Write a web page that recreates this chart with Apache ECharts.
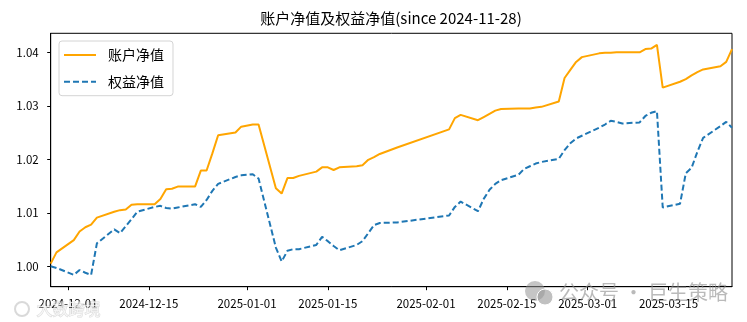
<!DOCTYPE html>
<html>
<head>
<meta charset="utf-8">
<script src="https://cdn.jsdelivr.net/npm/echarts@6/dist/echarts.min.js"></script>
<style>
  html, body { margin: 0; padding: 0; background: #fff; }
  #chart { width: 747px; height: 322px; }
</style>
</head>
<body>
<div id="chart"></div>
<script>
// Trading days since 2024-11-28
const dates = [
  '2024-11-28','2024-11-29','2024-12-02','2024-12-03','2024-12-04','2024-12-05','2024-12-06',
  '2024-12-09','2024-12-10','2024-12-11','2024-12-12','2024-12-13','2024-12-16','2024-12-17',
  '2024-12-18','2024-12-19','2024-12-20','2024-12-23','2024-12-24','2024-12-25','2024-12-26',
  '2024-12-27','2024-12-30','2024-12-31','2025-01-02','2025-01-03','2025-01-06','2025-01-07',
  '2025-01-08','2025-01-09','2025-01-10','2025-01-13','2025-01-14','2025-01-15','2025-01-16',
  '2025-01-17','2025-01-20','2025-01-21','2025-01-22','2025-01-23','2025-01-24','2025-01-27',
  '2025-02-05','2025-02-06','2025-02-07','2025-02-10','2025-02-11','2025-02-12','2025-02-13',
  '2025-02-14','2025-02-17','2025-02-18','2025-02-19','2025-02-20','2025-02-21','2025-02-24',
  '2025-02-25','2025-02-26','2025-02-27','2025-02-28','2025-03-03','2025-03-04','2025-03-05',
  '2025-03-06','2025-03-07','2025-03-10','2025-03-11','2025-03-12','2025-03-13','2025-03-14',
  '2025-03-17','2025-03-18','2025-03-19','2025-03-20','2025-03-21','2025-03-24','2025-03-25',
  '2025-03-26'
];

// 账户净值
const accountNav = [
  1.0005, 1.0026, 1.0049, 1.0065, 1.0073, 1.0078, 1.0091,
  1.0102, 1.0105, 1.0106, 1.0115, 1.0116, 1.0116, 1.0126,
  1.0144, 1.0145, 1.0149, 1.0149, 1.0179, 1.0179, 1.0211,
  1.0245, 1.0250, 1.0261, 1.0265, 1.0265, 1.0146, 1.0136,
  1.0165, 1.0165, 1.0169, 1.0177, 1.0185, 1.0185, 1.0180,
  1.0185, 1.0187, 1.0189, 1.0199, 1.0204, 1.0210, 1.0222,
  1.0256, 1.0277, 1.0283, 1.0273, 1.0279, 1.0285, 1.0291,
  1.0294, 1.0295, 1.0295, 1.0295, 1.0297, 1.0298, 1.0308,
  1.0352, 1.0367, 1.0382, 1.0391, 1.0398, 1.0399, 1.0399,
  1.0400, 1.0400, 1.0400, 1.0406, 1.0407, 1.0414, 1.0334,
  1.0345, 1.0350, 1.0357, 1.0363, 1.0368, 1.0374, 1.0382,
  1.0406
];

// 权益净值
const equityNav = [
  1.0000, 0.9997, 0.9984, 0.9993, 0.9988, 0.9984, 1.0043,
  1.0069, 1.0062, 1.0075, 1.0088, 1.0102, 1.0111, 1.0113,
  1.0109, 1.0108, 1.0110, 1.0116, 1.0111, 1.0124, 1.0141,
  1.0154, 1.0167, 1.0170, 1.0172, 1.0164, 1.0035, 1.0009,
  1.0029, 1.0032, 1.0032, 1.0040, 1.0055, 1.0047, 1.0038,
  1.0030, 1.0040, 1.0047, 1.0062, 1.0077, 1.0081, 1.0082,
  1.0095, 1.0111, 1.0121, 1.0103, 1.0126, 1.0143, 1.0154,
  1.0161, 1.0171, 1.0182, 1.0187, 1.0192, 1.0195, 1.0201,
  1.0217, 1.0230, 1.0239, 1.0244, 1.0259, 1.0265, 1.0272,
  1.0270, 1.0267, 1.0269, 1.0281, 1.0287, 1.0290, 1.0110,
  1.0117, 1.0174, 1.0184, 1.0214, 1.0240, 1.0262, 1.0270,
  1.0259
];

const xTickDates = ['2024-12-01','2024-12-15','2025-01-01','2025-01-15',
                    '2025-02-01','2025-02-15','2025-03-01','2025-03-15'];
const yTicks = [1.00, 1.01, 1.02, 1.03, 1.04];
const xRange = ['2024-11-28', '2025-03-26'];
const yRange = [0.99619, 1.04355];

const seriesNames = ['账户净值', '权益净值'];
const titleText = '账户净值及权益净值(since 2024-11-28)';

// Dates are placed on a numeric axis as UTC day timestamps
function ts(s) {
  const [y, m, d] = s.split('-').map(Number);
  return Date.UTC(y, m - 1, d);
}
function fmtDate(v) {
  const d = new Date(v);
  const p = n => String(n).padStart(2, '0');
  return d.getUTCFullYear() + '-' + p(d.getUTCMonth() + 1) + '-' + p(d.getUTCDate());
}

const FONT = '"Noto Sans CJK SC", "Noto Sans", sans-serif';
const chart = echarts.init(document.getElementById('chart'), null, { renderer: 'canvas' });

const xTickValues = xTickDates.map(ts);

chart.setOption({
  animation: false,
  backgroundColor: '#fff',
  textStyle: { fontFamily: FONT },
  title: {
    text: titleText,
    left: 391,
    textAlign: 'center',
    top: 11,
    padding: 0,
    textStyle: { fontSize: 15, fontWeight: 'normal', color: '#000', fontFamily: FONT }
  },
  grid: {
    left: 50.7, right: 15, top: 33.3, bottom: 35.3,
    show: true, borderColor: '#000', borderWidth: 1, backgroundColor: 'transparent'
  },
  legend: {
    orient: 'vertical',
    left: 59, top: 41,
    padding: [7, 9, 7, 4],
    itemWidth: 32, itemHeight: 14, itemGap: 12.7,
    borderColor: '#d4d4d4', borderWidth: 1, borderRadius: 3,
    backgroundColor: 'rgba(255,255,255,0.85)',
    itemStyle: { opacity: 0 },
    textStyle: { fontSize: 14, color: '#000', fontFamily: FONT, padding: [0, 0, 0, 7] },
    data: seriesNames
  },
  xAxis: {
    type: 'value',
    min: ts(xRange[0]),
    max: ts(xRange[1]),
    axisLine: { show: true, lineStyle: { color: '#000', width: 1 } },
    axisTick: { show: true, length: 3.5, lineStyle: { color: '#000' }, customValues: xTickValues },
    axisLabel: {
      customValues: xTickValues, formatter: v => fmtDate(v),
      fontSize: 11.5, color: '#000', margin: 11, fontFamily: FONT, hideOverlap: false
    },
    splitLine: { show: false }
  },
  yAxis: {
    type: 'value',
    min: yRange[0],
    max: yRange[1],
    axisLine: { show: true, lineStyle: { color: '#000', width: 1 } },
    axisTick: { show: true, length: 3.5, lineStyle: { color: '#000' }, customValues: yTicks },
    axisLabel: {
      customValues: yTicks, formatter: v => v.toFixed(2),
      fontSize: 11.5, color: '#000', margin: 12, fontFamily: FONT
    },
    splitLine: { show: false }
  },
  series: [
    {
      name: seriesNames[0], type: 'line', symbol: 'none', smooth: false,
      color: '#FFA500',
      lineStyle: { color: '#FFA500', width: 2 },
      data: dates.map((d, i) => [ts(d), accountNav[i]])
    },
    {
      name: seriesNames[1], type: 'line', symbol: 'none', smooth: false,
      color: '#1f77b4',
      lineStyle: { color: '#1f77b4', width: 2, type: [6, 3] },
      data: dates.map((d, i) => [ts(d), equityNav[i]])
    }
  ],
  graphic: [
    // account mark, lower right
    { type: 'circle', shape: { cx: 535, cy: 291, r: 10 }, style: { fill: 'rgba(150,150,150,0.55)' }, z: 100 },
    { type: 'circle', shape: { cx: 545, cy: 297, r: 8 }, style: { fill: 'rgba(150,150,150,0.6)', stroke: '#fff', lineWidth: 1 }, z: 101 },
    { type: 'text', left: 559, top: 282, z: 100,
      style: { text: '公众号 · 巨生策略', fontSize: 20, fontFamily: FONT, fill: 'rgba(140,140,140,0.6)' } },
    // mark, lower left
    { type: 'circle', shape: { cx: 22, cy: 309, r: 7 }, style: { fill: 'none', stroke: 'rgba(170,170,170,0.45)', lineWidth: 2 }, z: 100 },
    { type: 'text', left: 36, top: 300, z: 100,
      style: { text: '大数跨境', fontSize: 16, fontFamily: FONT, fill: 'rgba(255,255,255,0.7)', stroke: 'rgba(170,170,170,0.45)', lineWidth: 1 } }
  ]
});
</script>
</body>
</html>
